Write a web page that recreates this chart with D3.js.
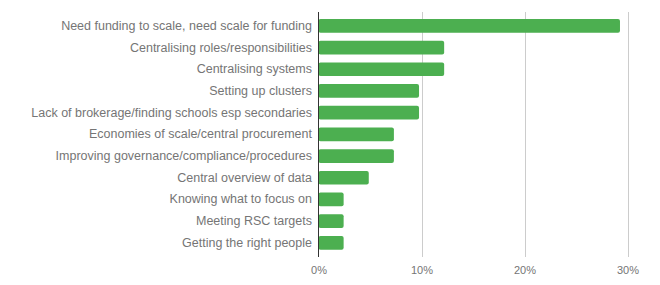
<!DOCTYPE html>
<html>
<head>
<meta charset="utf-8">
<script src="https://cdn.jsdelivr.net/npm/d3@7"></script>
<style>
  body { margin: 0; background: #fff; }
  svg { display: block; }
  text { font-family: Arial, "Liberation Sans", sans-serif; }
</style>
</head>
<body>
<svg id="chart" width="660" height="285"></svg>
<script>
const categories = [
  "Need funding to scale, need scale for funding",
  "Centralising roles/responsibilities",
  "Centralising systems",
  "Setting up clusters",
  "Lack of brokerage/finding schools esp secondaries",
  "Economies of scale/central procurement",
  "Improving governance/compliance/procedures",
  "Central overview of data",
  "Knowing what to focus on",
  "Meeting RSC targets",
  "Getting the right people"
];
const values = [0.2927, 0.122, 0.122, 0.0976, 0.0976, 0.0732, 0.0732, 0.0488, 0.0244, 0.0244, 0.0244];
const tickValues = [0, 0.1, 0.2, 0.3];
const tickLabels = ["0%", "10%", "20%", "30%"];

const svg = d3.select("#chart");
const x = d3.scaleLinear().domain([0, 0.3]).range([318.5, 627.5]);
const y = d3.scaleBand().domain(categories).range([15, 253.7]).paddingInner(0.37).paddingOuter(0.185);

// gridlines
svg.append("g").selectAll("line").data(tickValues.slice(1)).join("line")
  .attr("x1", d => Math.round(x(d)) + 0.5).attr("x2", d => Math.round(x(d)) + 0.5)
  .attr("y1", 12).attr("y2", 257)
  .attr("stroke", "#cccccc").attr("stroke-width", 1);

// bars
svg.append("g").selectAll("rect").data(values).join("rect")
  .attr("x", x(0))
  .attr("y", (d, i) => y(categories[i]))
  .attr("width", d => x(d) - x(0))
  .attr("height", y.bandwidth())
  .attr("rx", 2).attr("ry", 2)
  .attr("fill", "#4caf50");

// axis baseline
svg.append("line")
  .attr("x1", 318.5).attr("x2", 318.5).attr("y1", 12).attr("y2", 257)
  .attr("stroke", "#333333").attr("stroke-width", 1);

// y labels
const yAxis = d3.axisLeft(y).tickSize(0).tickPadding(0);
const gy = svg.append("g").attr("transform", "translate(312,0)").call(yAxis);
gy.select(".domain").remove();
gy.selectAll("text").attr("font-size", 12.5).attr("fill", "#757575")
  .attr("font-family", "Arial, 'Liberation Sans', sans-serif");

// x tick labels
const xAxis = d3.axisBottom(x).tickValues(tickValues).tickSize(0).tickPadding(0)
  .tickFormat((d, i) => tickLabels[i]);
const gx = svg.append("g").attr("transform", "translate(0,266)").call(xAxis);
gx.select(".domain").remove();
gx.selectAll("text").attr("font-size", 11).attr("fill", "#757575")
  .attr("font-family", "Arial, 'Liberation Sans', sans-serif");
</script>
</body>
</html>
